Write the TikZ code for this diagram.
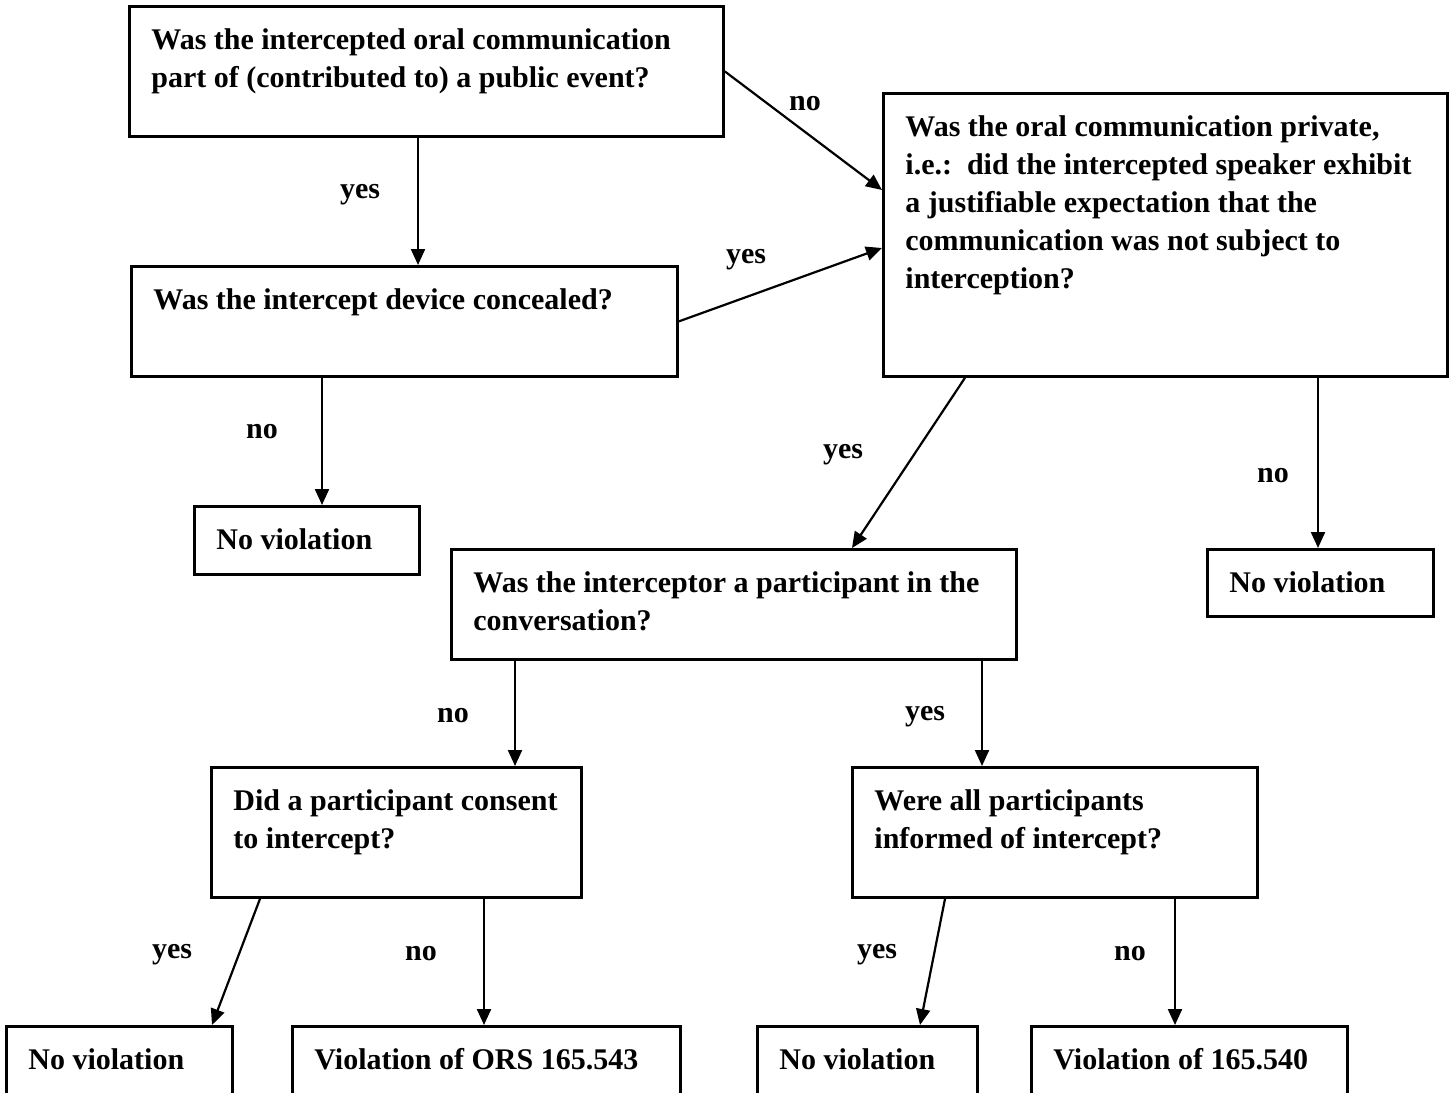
\documentclass[tikz,border=0pt]{standalone}
\usepackage{fontspec}
\setmainfont{Liberation Serif}
\usetikzlibrary{arrows.meta}

\newcommand{\qtext}[3]{\parbox[t][#2][t]{#1}{\raggedright #3}}

\begin{document}
\begin{tikzpicture}[x=0.5pt, y=-0.5pt,
    font=\fontsize{15}{19}\selectfont\bfseries,
    qbox/.style={draw, line width=1.4pt, anchor=north west, inner xsep=11pt, inner ysep=11pt},
    arr/.style={line width=1.1pt, -{Triangle[length=8pt, width=7pt]}},
    lbl/.style={inner sep=0pt}]
    \clip (0,0) rectangle (1449,1092);

    % questions
    \node[qbox] (public) at (128,5) {\qtext{275pt}{43pt}{Was the intercepted oral communication\\ part of (contributed to) a public event?}};
    \node[qbox] (hidden) at (130,265) {\qtext{251pt}{33pt}{Was the intercept device concealed?}};
    \node[qbox] (private) at (882,92) {\qtext{260pt}{119.5pt}{Was the oral communication private,\\ i.e.:\ \ did the intercepted speaker exhibit\\ a justifiable expectation that the\\ communication was not subject to\\ interception?}};
    \node[qbox] (nov1) at (193,505) {\qtext{90.5pt}{12pt}{No violation}};
    \node[qbox] (party) at (450,548) {\qtext{260.5pt}{33pt}{Was the interceptor a participant in the\\ conversation?}};
    \node[qbox] (nov2) at (1206,548) {\qtext{91pt}{11.5pt}{No violation}};
    \node[qbox] (consent) at (210,766) {\qtext{163pt}{43pt}{Did a participant consent\\ to intercept?}};
    \node[qbox] (informed) at (851,766) {\qtext{180.5pt}{43pt}{Were all participants\\ informed of intercept?}};

    % outcomes
    \node[qbox] (nov3) at (5,1025) {\qtext{91pt}{12pt}{No violation}};
    \node[qbox] (ors) at (291,1025) {\qtext{172pt}{12pt}{Violation of ORS 165.543}};
    \node[qbox] (nov4) at (756,1025) {\qtext{88pt}{12pt}{No violation}};
    \node[qbox] (viol) at (1030,1025) {\qtext{136pt}{12pt}{Violation of 165.540}};

    % arrows
    \draw[arr] (418,0 |- public.south) -- (418,0 |- hidden.north);
    \draw[arr] (public.east) -- (private.west |- 0,190);
    \draw[arr] (hidden.east) -- (private.west |- 0,248);
    \draw[arr] (322,0 |- hidden.south) -- (322,0 |- nov1.north);
    \draw[arr] (965,0 |- private.south) -- (852,0 |- party.north);
    \draw[arr] (1318,0 |- private.south) -- (1318,0 |- nov2.north);
    \draw[arr] (515,0 |- party.south) -- (515,0 |- consent.north);
    \draw[arr] (982,0 |- party.south) -- (982,0 |- informed.north);
    \draw[arr] (260,0 |- consent.south) -- (212,0 |- nov3.north);
    \draw[arr] (484,0 |- consent.south) -- (484,0 |- ors.north);
    \draw[arr] (945,0 |- informed.south) -- (920,0 |- nov4.north);
    \draw[arr] (1175,0 |- informed.south) -- (1175,0 |- viol.north);

    % answers
    \node[lbl] (l1) at (805,104) {no};
    \node[lbl] (l2) at (360,195) {yes};
    \node[lbl] (l3) at (746,260) {yes};
    \node[lbl] (l4) at (262,432) {no};
    \node[lbl] (l5) at (843,455) {yes};
    \node[lbl] (l6) at (1273,476) {no};
    \node[lbl] (l7) at (453,716) {no};
    \node[lbl] (l8) at (925,717) {yes};
    \node[lbl] (l9) at (172,955) {yes};
    \node[lbl] (l10) at (421,954) {no};
    \node[lbl] (l11) at (877,955) {yes};
    \node[lbl] (l12) at (1130,954) {no};
  \end{tikzpicture}
\end{document}
